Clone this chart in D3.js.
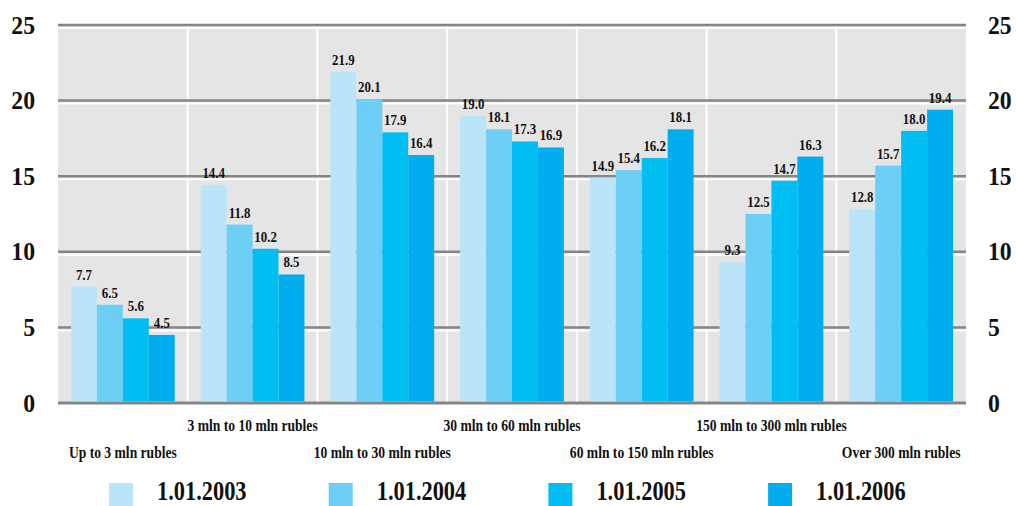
<!DOCTYPE html>
<html>
<head>
<meta charset="utf-8">
<script src="https://cdn.jsdelivr.net/npm/d3@7"></script>
<style>
  html, body { margin: 0; padding: 0; background: #fff; }
  svg { display: block; }
</style>
</head>
<body>
<svg id="chart" width="1016" height="506"></svg>
<script>
// Categories (deposit size groups)
const categories = [
  "Up to 3 mln rubles",
  "3 mln to 10 mln rubles",
  "10 mln to 30 mln rubles",
  "30 mln to 60 mln rubles",
  "60 mln to 150 mln rubles",
  "150 mln to 300 mln rubles",
  "Over 300 mln rubles"
];

// Series names (reporting dates)
const seriesNames = ["1.01.2003", "1.01.2004", "1.01.2005", "1.01.2006"];

// Values per series, one per category
const values2003 = [7.7, 14.4, 21.9, 19.0, 14.9, 9.3, 12.8];
const values2004 = [6.5, 11.8, 20.1, 18.1, 15.4, 12.5, 15.7];
const values2005 = [5.6, 10.2, 17.9, 17.3, 16.2, 14.7, 18.0];
const values2006 = [4.5, 8.5, 16.4, 16.9, 18.1, 16.3, 19.4];

// Y axis ticks
const yTicks = [0, 5, 10, 15, 20, 25];

const seriesValues = [values2003, values2004, values2005, values2006];
const colors = ["#bae5f8", "#6dcff6", "#00bdf2", "#00adee"];

const FONT = "'Liberation Serif', 'DejaVu Serif', 'Times New Roman', serif";

const svg = d3.select("#chart")
  .attr("font-family", FONT)
  .attr("font-weight", "bold");

const plotLeft = 58, plotRight = 966, plotTop = 25, plotBottom = 403;

const x0 = d3.scaleBand().domain(categories).range([plotLeft, plotRight])
  .paddingInner(0.2).paddingOuter(0.1);
const x1 = d3.scaleBand().domain(seriesNames).range([0, x0.bandwidth()]);
const y = d3.scaleLinear().domain([0, 25]).range([plotBottom, plotTop]);

// Plot background
svg.append("rect")
  .attr("x", plotLeft).attr("y", y(25))
  .attr("width", plotRight - plotLeft).attr("height", y(0) - y(25))
  .attr("fill", "#e5e5e5");

// Vertical separators between groups
const step = x0.step();
const seps = d3.range(1, categories.length).map(i => plotLeft + i * step);
svg.append("g").selectAll("line").data(seps).join("line")
  .attr("x1", d => d).attr("x2", d => d)
  .attr("y1", y(25)).attr("y2", y(0))
  .attr("stroke", "#fff").attr("stroke-width", 2);

// Horizontal grid: dark line with a white highlight beneath
const grid = svg.append("g");
grid.selectAll("line.hl").data(yTicks.filter(d => d > 0)).join("line")
  .attr("class", "hl")
  .attr("x1", plotLeft).attr("x2", plotRight)
  .attr("y1", d => y(d) + 3).attr("y2", d => y(d) + 3)
  .attr("stroke", "#fff").attr("stroke-width", 2);
grid.selectAll("line.gl").data(yTicks).join("line")
  .attr("class", "gl")
  .attr("x1", plotLeft).attr("x2", plotRight)
  .attr("y1", d => y(d)).attr("y2", d => y(d))
  .attr("stroke", "#858585").attr("stroke-width", d => d === 0 ? 3 : 2.5);

// Bars
const rows = categories.map((c, i) => ({
  cat: c,
  vals: seriesNames.map((s, j) => ({ s, v: seriesValues[j][i], c: colors[j] }))
}));

const groups = svg.append("g").selectAll("g").data(rows).join("g")
  .attr("transform", d => `translate(${x0(d.cat)},0)`);

groups.selectAll("rect").data(d => d.vals).join("rect")
  .attr("x", d => x1(d.s))
  .attr("y", d => y(d.v))
  .attr("width", x1.bandwidth())
  .attr("height", d => y(0) - y(d.v) - 1.5)
  .attr("fill", d => d.c);

// Value labels
groups.selectAll("text").data(d => d.vals).join("text")
  .attr("transform", d => `translate(${x1(d.s) + x1.bandwidth() / 2},${y(d.v) - 7}) scale(0.86,1)`)
  .attr("text-anchor", "middle")
  .attr("font-size", 15)
  .attr("fill", "#111")
  .text(d => d.v.toFixed(1));

// Y axis labels, left and right
const yl = svg.append("g").attr("fill", "#111");
yl.selectAll("text.l").data(yTicks).join("text")
  .attr("class", "l")
  .attr("transform", d => `translate(35,${y(d) + 8.5}) scale(0.95,1)`)
  .attr("text-anchor", "end")
  .attr("font-size", 25)
  .text(d => d);
yl.selectAll("text.r").data(yTicks).join("text")
  .attr("class", "r")
  .attr("transform", d => `translate(988,${y(d) + 8.5}) scale(0.95,1)`)
  .attr("text-anchor", "start")
  .attr("font-size", 25)
  .text(d => d);

// Category labels, staggered in two rows
svg.append("g").attr("fill", "#111").selectAll("text").data(categories).join("text")
  .attr("transform", (d, i) => `translate(${x0(d) + x0.bandwidth() / 2},${i % 2 ? 431 : 458}) scale(0.8,1)`)
  .attr("text-anchor", "middle")
  .attr("font-size", 17)
  .text(d => d);

// Legend
const lg = svg.append("g").selectAll("g").data(seriesNames).join("g")
  .attr("transform", (d, i) => `translate(${109 + i * 219.7},0)`);
lg.append("rect")
  .attr("x", 0).attr("y", 483).attr("width", 24).attr("height", 23)
  .attr("fill", (d, i) => colors[i]);
lg.append("text")
  .attr("transform", "translate(48,500) scale(0.8,1)")
  .attr("font-size", 28)
  .attr("fill", "#111")
  .text(d => d);
</script>
</body>
</html>
